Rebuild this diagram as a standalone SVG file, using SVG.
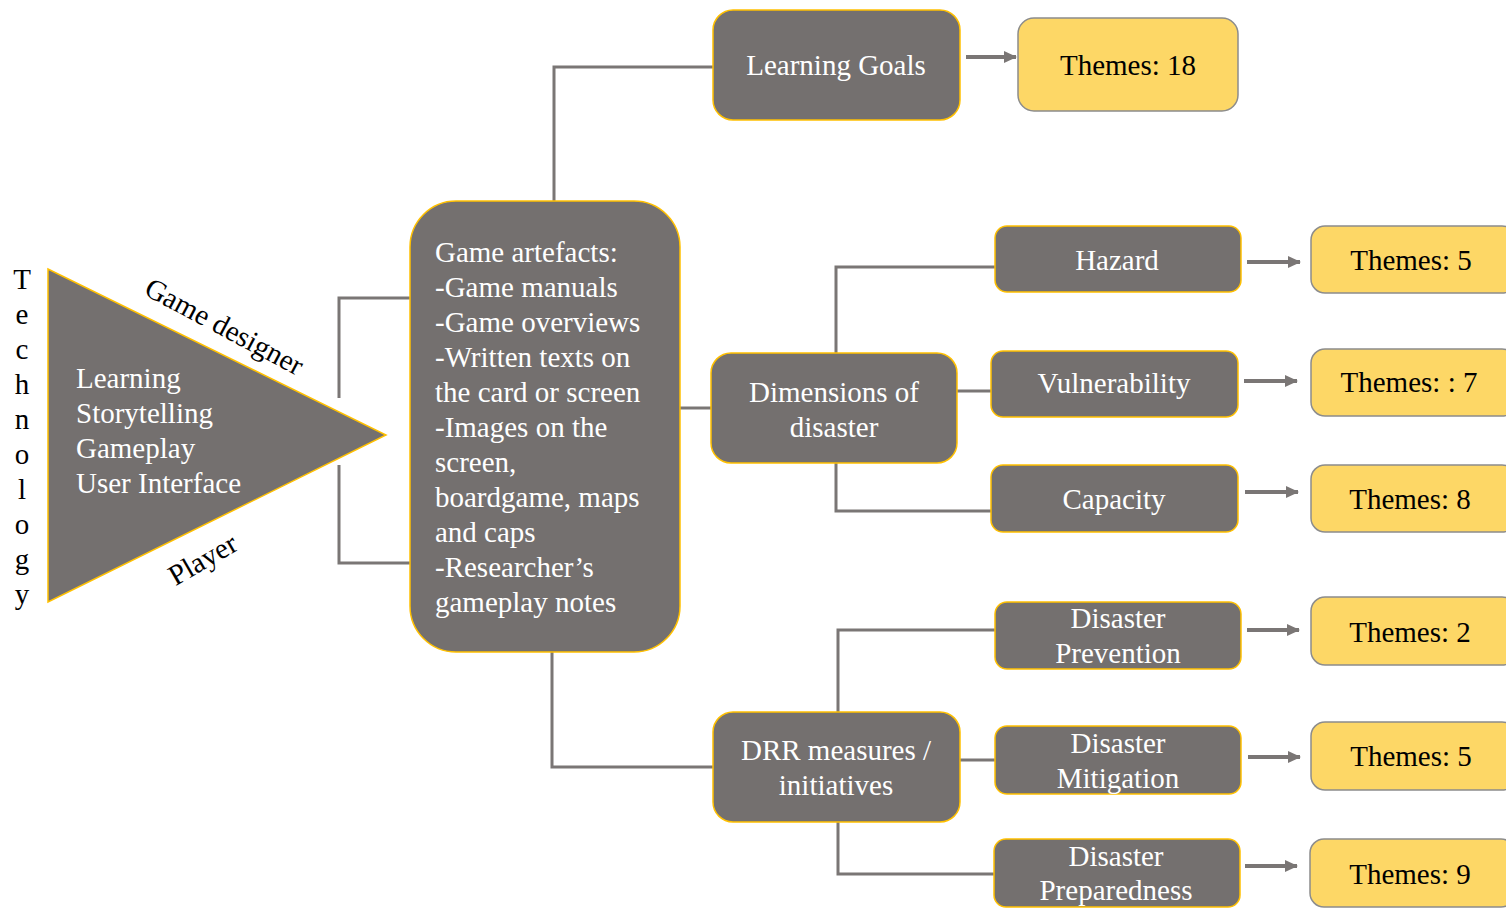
<svg xmlns="http://www.w3.org/2000/svg" width="1506" height="913" viewBox="0 0 1506 913">
<style>
.g{fill:#74706f;stroke:#ffc000;stroke-width:1.5}
.y{fill:#fdd766;stroke:#8c8c8c;stroke-width:1.5}
.tw{font-family:"Liberation Serif","Times New Roman",serif;font-size:29px;fill:#ffffff}
.tb{font-family:"Liberation Serif","Times New Roman",serif;font-size:29px;fill:#000000}
.c{text-anchor:middle}
.ln{fill:none;stroke:#7a7675;stroke-width:3}
.ar{fill:none;stroke:#7a7675;stroke-width:4}
</style>
<defs>
<marker id="ah" markerUnits="userSpaceOnUse" markerWidth="14" markerHeight="14" refX="12" refY="7" orient="auto">
<path d="M0,1 L13,7 L0,13 Z" fill="#7a7675"/>
</marker>
</defs>
<rect width="1506" height="913" fill="#ffffff"/>

<g id="connectors">
<path class="ln" d="M339,398 V298 H410"/>
<path class="ln" d="M339,465 V563 H410"/>
<path class="ln" d="M554,201 V67 H713"/>
<path class="ln" d="M680,408 H711"/>
<path class="ln" d="M836,353 V267 H995"/>
<path class="ln" d="M957,391 H991"/>
<path class="ln" d="M836,463 V511 H991"/>
<path class="ln" d="M552,652 V767 H713"/>
<path class="ln" d="M838,712 V630 H995"/>
<path class="ln" d="M960,760 H995"/>
<path class="ln" d="M838,822 V874 H994"/>
<path class="ar" d="M966,57 H1016" marker-end="url(#ah)"/>
<path class="ar" d="M1247,262 H1300" marker-end="url(#ah)"/>
<path class="ar" d="M1244,381 H1297" marker-end="url(#ah)"/>
<path class="ar" d="M1245,492 H1298" marker-end="url(#ah)"/>
<path class="ar" d="M1247,630 H1299" marker-end="url(#ah)"/>
<path class="ar" d="M1248,757 H1300" marker-end="url(#ah)"/>
<path class="ar" d="M1245,866 H1297" marker-end="url(#ah)"/>
</g>

<g id="technology">
<text class="tb c" x="22" y="289">T</text>
<text class="tb c" x="22" y="324">e</text>
<text class="tb c" x="22" y="359">c</text>
<text class="tb c" x="22" y="394">h</text>
<text class="tb c" x="22" y="429">n</text>
<text class="tb c" x="22" y="464">o</text>
<text class="tb c" x="22" y="499">l</text>
<text class="tb c" x="22" y="534">o</text>
<text class="tb c" x="22" y="569">g</text>
<text class="tb c" x="22" y="604">y</text>
</g>

<g id="triangle">
<polygon class="g" points="48,269 48,602 386,435"/>
<text class="tw" x="76" y="388">Learning</text>
<text class="tw" x="76" y="423">Storytelling</text>
<text class="tw" x="76" y="458">Gameplay</text>
<text class="tw" x="76" y="493">User Interface</text>
</g>

<g id="label-game-designer">
<text class="tb c" transform="translate(224,327) rotate(28)" y="9">Game designer</text>
</g>
<g id="label-player">
<text class="tb c" transform="translate(203,560) rotate(-30)" y="9">Player</text>
</g>

<g id="game-artefacts">
<rect class="g" x="410" y="201" width="270" height="451" rx="46"/>
<text class="tw" x="435" y="262">Game artefacts:</text>
<text class="tw" x="435" y="297">-Game manuals</text>
<text class="tw" x="435" y="332">-Game overviews</text>
<text class="tw" x="435" y="367">-Written texts on</text>
<text class="tw" x="435" y="402">the card or screen</text>
<text class="tw" x="435" y="437">-Images on the</text>
<text class="tw" x="435" y="472">screen,</text>
<text class="tw" x="435" y="507">boardgame, maps</text>
<text class="tw" x="435" y="542">and caps</text>
<text class="tw" x="435" y="577">-Researcher’s</text>
<text class="tw" x="435" y="612">gameplay notes</text>
</g>

<g id="learning-goals">
<rect class="g" x="713" y="10" width="247" height="110" rx="20"/>
<text class="tw c" x="836" y="75">Learning Goals</text>
</g>
<g id="themes-18">
<rect class="y" x="1018" y="18" width="220" height="93" rx="16"/>
<text class="tb c" x="1128" y="75">Themes: 18</text>
</g>

<g id="dimensions">
<rect class="g" x="711" y="353" width="246" height="110" rx="20"/>
<text class="tw c" x="834" y="402">Dimensions of</text>
<text class="tw c" x="834" y="437">disaster</text>
</g>

<g id="hazard">
<rect class="g" x="995" y="226" width="246" height="66" rx="12"/>
<text class="tw c" x="1117" y="270">Hazard</text>
</g>
<g id="vulnerability">
<rect class="g" x="991" y="351" width="247" height="66" rx="12"/>
<text class="tw c" x="1114" y="393">Vulnerability</text>
</g>
<g id="capacity">
<rect class="g" x="991" y="465" width="247" height="67" rx="12"/>
<text class="tw c" x="1114" y="509">Capacity</text>
</g>

<g id="themes-5a">
<rect class="y" x="1311" y="226" width="205" height="67" rx="14"/>
<text class="tb c" x="1411" y="270">Themes: 5</text>
</g>
<g id="themes-7">
<rect class="y" x="1311" y="349" width="205" height="67" rx="14"/>
<text class="tb c" x="1409" y="392">Themes: : 7</text>
</g>
<g id="themes-8">
<rect class="y" x="1311" y="465" width="205" height="67" rx="14"/>
<text class="tb c" x="1410" y="509">Themes: 8</text>
</g>

<g id="drr">
<rect class="g" x="713" y="712" width="247" height="110" rx="20"/>
<text class="tw c" x="836" y="760">DRR measures /</text>
<text class="tw c" x="836" y="795">initiatives</text>
</g>

<g id="prevention">
<rect class="g" x="995" y="602" width="246" height="67" rx="12"/>
<text class="tw c" x="1118" y="628">Disaster</text>
<text class="tw c" x="1118" y="663">Prevention</text>
</g>
<g id="mitigation">
<rect class="g" x="995" y="726" width="246" height="68" rx="12"/>
<text class="tw c" x="1118" y="753">Disaster</text>
<text class="tw c" x="1118" y="788">Mitigation</text>
</g>
<g id="preparedness">
<rect class="g" x="994" y="839" width="246" height="68" rx="12"/>
<text class="tw c" x="1116" y="866">Disaster</text>
<text class="tw c" x="1116" y="900">Preparedness</text>
</g>

<g id="themes-2">
<rect class="y" x="1311" y="597" width="205" height="68" rx="14"/>
<text class="tb c" x="1410" y="642">Themes: 2</text>
</g>
<g id="themes-5b">
<rect class="y" x="1311" y="722" width="205" height="68" rx="14"/>
<text class="tb c" x="1411" y="766">Themes: 5</text>
</g>
<g id="themes-9">
<rect class="y" x="1310" y="839" width="205" height="68" rx="14"/>
<text class="tb c" x="1410" y="884">Themes: 9</text>
</g>
</svg>
